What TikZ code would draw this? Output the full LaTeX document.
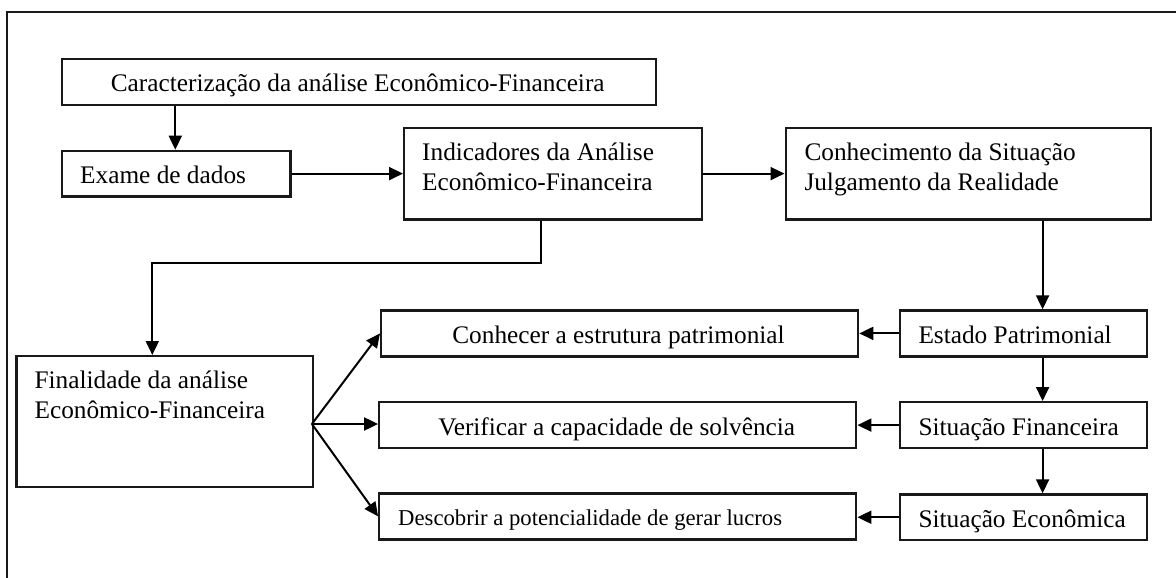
\documentclass[tikz,border=0pt]{standalone}
\usepackage{fontspec}
\setmainfont{Liberation Serif}
\usetikzlibrary{arrows.meta}
\begin{document}
\begin{tikzpicture}[x=1pt,y=-1pt,
  box/.style={draw=black!90, line width=2.2pt, inner sep=0pt, anchor=north west},
  txt/.style={inner sep=0pt, anchor=base west, font=\fontsize{25.3}{30}\selectfont},
  ctxt/.style={txt, anchor=base},
  stxt/.style={txt, font=\fontsize{22.7}{27}\selectfont},
  arr/.style={line width=2pt, -{Triangle[length=14pt,width=13pt]}},
  ln/.style={line width=2.2pt, draw=black!90}]
\useasboundingbox (0,0) rectangle (1176,578);
\draw[ln] (6.9,600) -- (6.9,11.7) -- (1200,11.7);
% boxes
\node[box, minimum width=594.4pt, minimum height=45.4pt] (car) at (60.5,58.3) {};
\node[box, minimum width=228.8pt, minimum height=45.6pt] (exa) at (60.5,149.7) {};
\node[box, minimum width=297.5pt, minimum height=91.6pt] (ind) at (403,126.7) {};
\node[box, minimum width=365.6pt, minimum height=91.6pt] (con) at (784.5,126.7) {};
\node[box, minimum width=296.6pt, minimum height=130.7pt] (fin) at (15.3,355) {};
\node[box, minimum width=477.1pt, minimum height=46pt] (cep) at (380,309.3) {};
\node[box, minimum width=477.1pt, minimum height=45.7pt] (ver) at (378.1,401) {};
\node[box, minimum width=477.1pt, minimum height=46pt] (des) at (378.1,492.3) {};
\node[box, minimum width=247.5pt, minimum height=46pt] (est) at (898.5,309.3) {};
\node[box, minimum width=247.5pt, minimum height=46pt] (sfi) at (898.5,401) {};
\node[box, minimum width=247.5pt, minimum height=45.7pt] (sec) at (898.5,493.3) {};
% texts
\node[ctxt] (tcar) at (357.7,91.7) {Caracterização da análise Econômico-Financeira};
\node[txt] (texa) at (80,183.3) {Exame de dados};
\node[txt] (tind1) at (422,160.7) {Indicadores da Análise};
\node[txt] (tind2) at (422,190.7) {Econômico-Financeira};
\node[txt] (tcon1) at (804.3,160) {Conhecimento da Situação};
\node[txt] (tcon2) at (804.3,190) {Julgamento da Realidade};
\node[txt] (tfin1) at (34.4,388.5) {Finalidade da análise};
\node[txt] (tfin2) at (34.4,418.5) {Econômico-Financeira};
\node[ctxt] (tcep) at (618.5,343.3) {Conhecer a estrutura patrimonial};
\node[ctxt] (tver) at (616.7,435) {Verificar a capacidade de solvência};
\node[stxt] (tdes) at (398,525.7) {Descobrir a potencialidade de gerar lucros};
\node[txt] (test) at (918.3,343.3) {Estado Patrimonial};
\node[txt] (tsfi) at (918.3,435) {Situação Financeira};
\node[txt] (tsec) at (918.3,527.3) {Situação Econômica};
% helper coordinates
\coordinate (xa) at (175.3,0);
\coordinate (xb) at (540.8,263.3);
\coordinate (xc) at (152.3,263.3);
\coordinate (xd) at (1042.6,0);
\coordinate (fo) at (311.9,424);
% connectors
\draw[arr] (xa |- car.south) -- (xa |- exa.north);
\draw[arr] (exa.east) -- (ind.west |- exa.east);
\draw[arr] (ind.east) -- (con.west |- ind.east);
\draw[arr] (xb |- ind.south) -- (xb) -- (xc) -- (xc |- fin.north);
\draw[arr] (xd |- con.south) -- (xd |- est.north);
\draw[arr] (xd |- est.south) -- (xd |- sfi.north);
\draw[arr] (xd |- sfi.south) -- (xd |- sec.north);
\draw[arr] (est.west) -- (cep.east |- est.west);
\draw[arr] (sfi.west) -- (ver.east |- sfi.west);
\draw[arr] (sec.west) -- (des.east |- sec.west);
\draw[arr] (fo) -- (cep.west);
\draw[arr] (fo) -- (ver.west |- fo);
\draw[arr] (fo) -- (des.west);
\end{tikzpicture}
\end{document}
